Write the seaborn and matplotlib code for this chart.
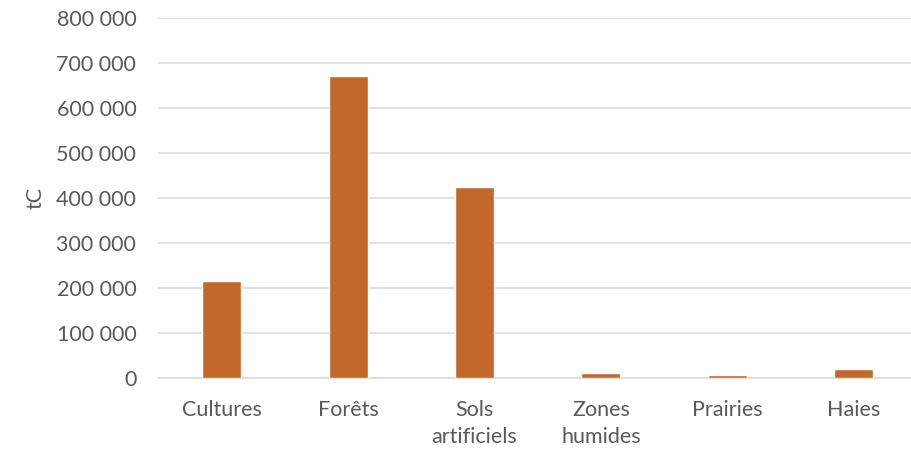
import matplotlib
matplotlib.use("Agg")
import matplotlib.pyplot as plt
import matplotlib.ticker as mticker
import seaborn as sns
import pandas as pd

categories = ["Cultures", "Forêts", "Sols\nartificiels", "Zones\nhumides", "Prairies", "Haies"]
stocks_tc = [216000, 670000, 424000, 10000, 6000, 20000]
y_ticks = [0, 100000, 200000, 300000, 400000, 500000, 600000, 700000, 800000]

df = pd.DataFrame({"categorie": categories, "stock": stocks_tc})

sns.set_theme(style="white")
plt.rcParams["font.family"] = ["Lato", "DejaVu Sans"]

text_color = "#595959"
grid_color = "#D9D9D9"
bar_color = "#C4672A"
font_size = 15.5

fig = plt.figure(figsize=(9.12, 4.5), dpi=100)
ax = fig.add_axes([158.5 / 912, 1 - 377.7 / 450, 758.4 / 912, 359.7 / 450])

sns.barplot(data=df, x="categorie", y="stock", color=bar_color, width=0.31,
            saturation=1, ax=ax, zorder=3)

ax.set_xlim(-0.5, len(categories) - 0.5)
ax.set_ylim(0, 800000)
ax.set_yticks(y_ticks)
ax.yaxis.set_major_formatter(mticker.FuncFormatter(lambda v, p: f"{int(v):,}".replace(",", " ")))
ax.grid(axis="y", color=grid_color, linewidth=1.1, zorder=0)
ax.set_axisbelow(True)

for side in ["top", "right", "left"]:
    ax.spines[side].set_visible(False)
ax.spines["bottom"].set_color(grid_color)
ax.spines["bottom"].set_linewidth(1.1)

ax.tick_params(axis="both", length=0, labelsize=font_size, colors=text_color)
ax.tick_params(axis="y", pad=16)
ax.tick_params(axis="x", pad=16)
for lbl in ax.get_xticklabels():
    lbl.set_linespacing(1.45)

ax.set_xlabel("")
ax.set_ylabel("tC", fontsize=font_size, color=text_color, labelpad=8)

fig.savefig("out.png", dpi=100)
